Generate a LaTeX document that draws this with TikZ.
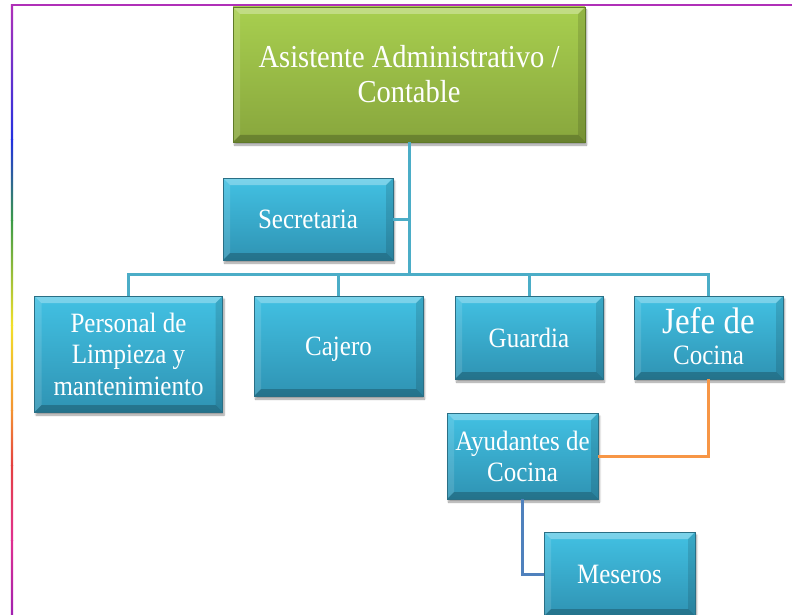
\documentclass[tikz,border=0pt]{standalone}
\usepackage{fontspec}
\usepackage{graphicx}
\setmainfont{Liberation Serif}
\usetikzlibrary{calc,shadows.blur}
\definecolor{cT}{HTML}{42C1E3}
\definecolor{cB}{HTML}{2F93B3}
\definecolor{cD}{HTML}{2A6F85}
\definecolor{gT}{HTML}{A8CF4F}
\definecolor{gB}{HTML}{88A63D}
\definecolor{gD}{HTML}{5F7A28}
\definecolor{connC}{HTML}{4BADC7}
\definecolor{connO}{HTML}{F79646}
\definecolor{connB}{HTML}{4F81BD}
\definecolor{fr1}{HTML}{B030B8}
\definecolor{fr2}{HTML}{2230E0}
\definecolor{fr3}{HTML}{3A9A48}
\definecolor{fr4}{HTML}{F2E02A}
\definecolor{fr5}{HTML}{F39432}
\definecolor{fr6}{HTML}{E44040}
\definecolor{fr7}{HTML}{E03090}
\definecolor{fr8}{HTML}{A020B0}
\newcommand\tx[1]{\raisebox{-3.5pt}[\height][\depth]{\scalebox{1}[1.12]{\begin{tabular}{@{}c@{}}#1\end{tabular}}}}
\tikzset{
  bevel/.style={path picture={
    \path (path picture bounding box.south west) coordinate (bsw)
          (path picture bounding box.north east) coordinate (bne);
    \path (bsw|-bne) coordinate (bnw) (bne|-bsw) coordinate (bse);
    \fill[white,opacity=.30] (bnw) -- (bne) -- ($(bne)+(-7pt,-7pt)$) -- ($(bnw)+(7pt,-7pt)$) -- cycle;
    \fill[white,opacity=.12] (bnw) -- ($(bnw)+(7pt,-7pt)$) -- ($(bsw)+(7pt,7pt)$) -- (bsw) -- cycle;
    \fill[black,opacity=.12] (bne) -- (bse) -- ($(bse)+(-7pt,7pt)$) -- ($(bne)+(-7pt,-7pt)$) -- cycle;
    \fill[black,opacity=.22] (bsw) -- (bse) -- ($(bse)+(-7pt,7pt)$) -- ($(bsw)+(7pt,7pt)$) -- cycle;
  }},
  cbox/.style={rectangle, inner sep=0pt, top color=cT, bottom color=cB, draw=cD, line width=0.6pt,
    bevel, text=white, font=\fontsize{25}{28}\selectfont,
    blur shadow={shadow xshift=1.5pt, shadow yshift=-3pt, shadow blur steps=6, shadow opacity=40}},
  gbox/.style={cbox, top color=gT, bottom color=gB, draw=gD, font=\fontsize{28.5}{31}\selectfont},
  conn/.style={draw=connC, line width=3pt},
  connor/.style={draw=connO, line width=3pt},
  connbl/.style={draw=connB, line width=3pt}
}
\begin{document}
\begin{tikzpicture}[x=1pt,y=-1pt]
\useasboundingbox (0,0) rectangle (792,615);
% frame
\draw[fr1, line width=2pt] (11,5.5) -- (792,5.5);
\fill[top color=fr1, bottom color=fr2] (10.8,5) rectangle (13.2,140);
\fill[top color=fr2, bottom color=fr3] (10.8,140) rectangle (13.2,220);
\fill[top color=fr3, bottom color=fr4] (10.8,220) rectangle (13.2,325);
\fill[top color=fr4, bottom color=fr5] (10.8,325) rectangle (13.2,410);
\fill[top color=fr5, bottom color=fr6] (10.8,410) rectangle (13.2,465);
\fill[top color=fr6, bottom color=fr7] (10.8,465) rectangle (13.2,540);
\fill[top color=fr7, bottom color=fr8] (10.8,540) rectangle (13.2,615);
% nodes
\node[gbox, minimum width=352pt, minimum height=135pt] (top) at (409,74.5)
  {\tx{Asistente Administrativo /\\Contable}};
\node[cbox, minimum width=170pt, minimum height=82pt] (sec) at (308,219) {\tx{Secretaria}};
\node[cbox, minimum width=188pt, minimum height=116pt] (per) at (128.5,354)
  {\tx{Personal de\\Limpieza y\\mantenimiento}};
\node[cbox, minimum width=169pt, minimum height=100pt] (caj) at (338.5,346) {\tx{Cajero}};
\node[cbox, minimum width=148pt, minimum height=83pt] (gua) at (529,337.5) {\tx{Guardia}};
\node[cbox, minimum width=149pt, minimum height=83pt] (jefe) at (708.5,337.5)
  {\tx{{\fontsize{33}{36}\selectfont Jefe de}\\Cocina}};
\node[cbox, minimum width=151pt, minimum height=86pt] (ayu) at (522.5,456)
  {\tx{Ayudantes de\\Cocina}};
\node[cbox, minimum width=151pt, minimum height=84pt] (mes) at (619.5,574) {\tx{Meseros}};
% connectors
\coordinate (busy) at (0,274);
\draw[conn] (top.south) -- (top.south|-busy);
\draw[conn] (sec.east) -- (sec.east-|top.south);
\draw[conn] (per.north) |- (jefe.north|-busy) -- (jefe.north);
\draw[conn] (caj.north) -- (caj.north|-busy);
\draw[conn] (gua.north) -- (gua.north|-busy);
\draw[connor] (jefe.south) |- (ayu.east);
\draw[connbl] (ayu.south) |- (mes.west);
\end{tikzpicture}
\end{document}
